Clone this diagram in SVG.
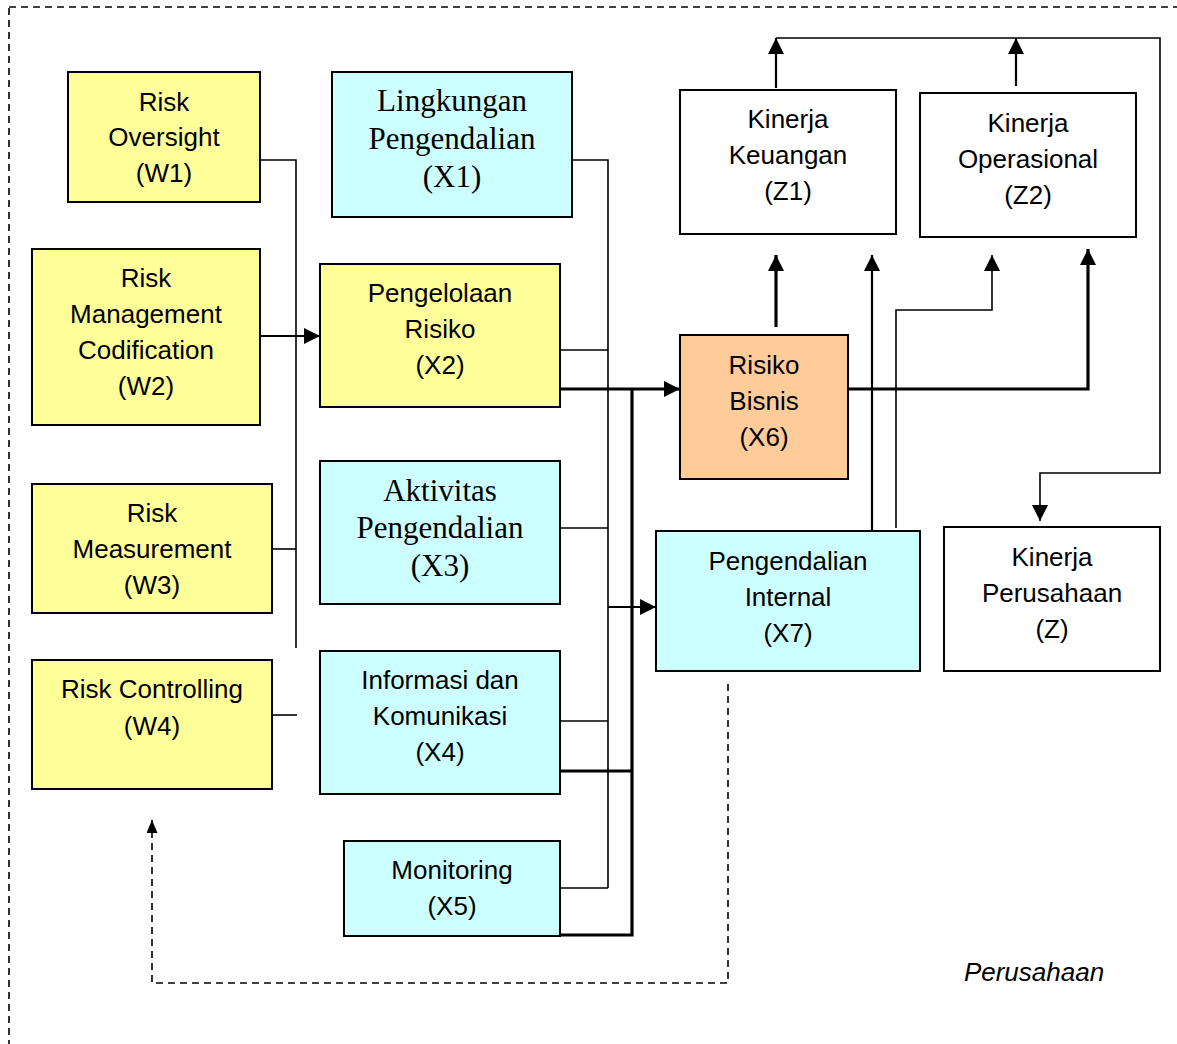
<svg xmlns="http://www.w3.org/2000/svg" width="1177" height="1044" viewBox="0 0 1177 1044">
<style>
.box{stroke:#000;stroke-width:2}
.y{fill:#FFFF99}.c{fill:#CCFFFF}.o{fill:#FFCC99}.w{fill:#FFFFFF}
text{font-family:"Liberation Sans",Arial,sans-serif;font-size:26px;fill:#000;text-anchor:middle}
text.s{font-family:"Liberation Serif","Times New Roman",serif;font-size:31px}
.ln{fill:none;stroke:#000;stroke-width:1.6}
.md{fill:none;stroke:#000;stroke-width:2.2}
.tk{fill:none;stroke:#000;stroke-width:3.2}
.ds{fill:none;stroke:#000;stroke-width:1.6;stroke-dasharray:7,5}
</style>
<defs>
<marker id="ah" viewBox="0 0 16 16" markerWidth="16" markerHeight="16" refX="16" refY="8" orient="auto" markerUnits="userSpaceOnUse"><path d="M0,0 L16,8 L0,16 z" fill="#000"/></marker>
<marker id="ahs" viewBox="0 0 13 11" markerWidth="13" markerHeight="11" refX="13" refY="5.5" orient="auto" markerUnits="userSpaceOnUse"><path d="M0,0 L13,5.5 L0,11 z" fill="#000"/></marker>
</defs>
<rect x="0" y="0" width="1177" height="1044" fill="#fff"/>
<rect x="9" y="7" width="1250" height="1100" class="ds"/>

<g id="connectors">
<polyline class="ln" points="260,160 296,160 296,648"/>
<line class="ln" x1="272" y1="549" x2="296" y2="549"/>
<line class="ln" x1="272" y1="715" x2="297" y2="715"/>
<line class="md" x1="260" y1="336" x2="320" y2="336" marker-end="url(#ah)"/>
<polyline class="ln" points="572,160 608,160 608,888"/>
<line class="ln" x1="560" y1="350" x2="608" y2="350"/>
<line class="ln" x1="560" y1="528" x2="608" y2="528"/>
<line class="ln" x1="560" y1="721" x2="608" y2="721"/>
<line class="ln" x1="560" y1="888" x2="608" y2="888"/>
<line class="md" x1="608" y1="607" x2="656" y2="607" marker-end="url(#ah)"/>
<line class="tk" x1="560" y1="389" x2="680" y2="389" marker-end="url(#ah)"/>
<polyline class="tk" points="632,389 632,935 560,935"/>
<line class="tk" x1="560" y1="771" x2="632" y2="771"/>
<line class="tk" x1="776" y1="327" x2="776" y2="255" marker-end="url(#ah)"/>
<line class="md" x1="872" y1="531" x2="872" y2="255" marker-end="url(#ah)"/>
<polyline class="ln" points="896,528 896,310 992,310 992,255" marker-end="url(#ah)"/>
<polyline class="tk" points="848,389 1088,389 1088,249" marker-end="url(#ah)"/>
<line class="md" x1="776" y1="88" x2="776" y2="38" marker-end="url(#ah)"/>
<line class="md" x1="1016" y1="86" x2="1016" y2="38" marker-end="url(#ah)"/>
<polyline class="ln" points="776,38 1160,38 1160,473 1040,473 1040,521" marker-end="url(#ah)"/>
<polyline class="ds" points="728,684 728,983 152,983 152,820" marker-end="url(#ahs)"/>
</g>

<g id="W1"><rect class="box y" x="68" y="72" width="192" height="130"/><text x="164" y="111">Risk</text><text x="164" y="146">Oversight</text><text x="164" y="182">(W1)</text></g>
<g id="W2"><rect class="box y" x="32" y="249" width="228" height="176"/><text x="146" y="287">Risk</text><text x="146" y="323">Management</text><text x="146" y="359">Codification</text><text x="146" y="395">(W2)</text></g>
<g id="W3"><rect class="box y" x="32" y="484" width="240" height="129"/><text x="152" y="522">Risk</text><text x="152" y="558">Measurement</text><text x="152" y="594">(W3)</text></g>
<g id="W4"><rect class="box y" x="32" y="660" width="240" height="129"/><text x="152" y="698">Risk Controlling</text><text x="152" y="735">(W4)</text></g>

<g id="X1"><rect class="box c" x="332" y="72" width="240" height="145"/><text class="s" x="452" y="111">Lingkungan</text><text class="s" x="452" y="149">Pengendalian</text><text class="s" x="452" y="187">(X1)</text></g>
<g id="X2"><rect class="box y" x="320" y="264" width="240" height="143"/><text x="440" y="302">Pengelolaan</text><text x="440" y="338">Risiko</text><text x="440" y="374">(X2)</text></g>
<g id="X3"><rect class="box c" x="320" y="461" width="240" height="143"/><text class="s" x="440" y="501">Aktivitas</text><text class="s" x="440" y="538">Pengendalian</text><text class="s" x="440" y="576">(X3)</text></g>
<g id="X4"><rect class="box c" x="320" y="651" width="240" height="143"/><text x="440" y="689">Informasi dan</text><text x="440" y="725">Komunikasi</text><text x="440" y="761">(X4)</text></g>
<g id="X5"><rect class="box c" x="344" y="841" width="216" height="95"/><text x="452" y="879">Monitoring</text><text x="452" y="915">(X5)</text></g>
<g id="X6"><rect class="box o" x="680" y="335" width="168" height="144"/><text x="764" y="374">Risiko</text><text x="764" y="410">Bisnis</text><text x="764" y="446">(X6)</text></g>
<g id="X7"><rect class="box c" x="656" y="531" width="264" height="140"/><text x="788" y="570">Pengendalian</text><text x="788" y="606">Internal</text><text x="788" y="642">(X7)</text></g>
<g id="Z1"><rect class="box w" x="680" y="90" width="216" height="144"/><text x="788" y="128">Kinerja</text><text x="788" y="164">Keuangan</text><text x="788" y="200">(Z1)</text></g>
<g id="Z2"><rect class="box w" x="920" y="93" width="216" height="144"/><text x="1028" y="132">Kinerja</text><text x="1028" y="168">Operasional</text><text x="1028" y="204">(Z2)</text></g>
<g id="Z"><rect class="box w" x="944" y="527" width="216" height="144"/><text x="1052" y="566">Kinerja</text><text x="1052" y="602">Perusahaan</text><text x="1052" y="638">(Z)</text></g>
<text x="1034" y="981" font-style="italic">Perusahaan</text>
</svg>
